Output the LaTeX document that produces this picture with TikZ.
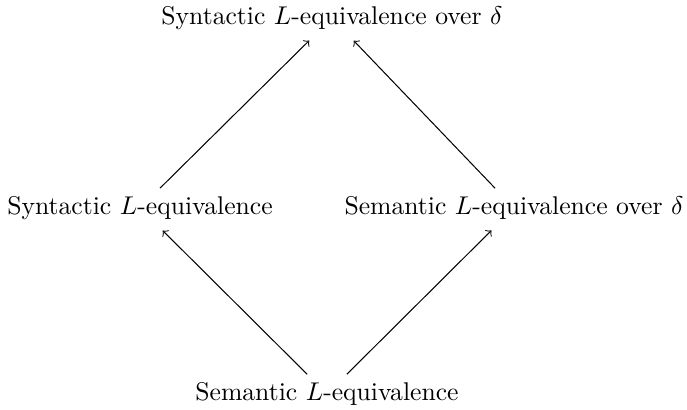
\documentclass[tikz,border=0pt]{standalone}
\usepackage{amsmath}
\usepackage{amssymb}
\usepackage{tikz}
\usetikzlibrary{positioning,calc}
\tikzset{
  >=to,
  % --- nodes
  eqv/.style = {inner sep=3pt, align=center},
  % --- edges
  e/.style   = {->, draw=black, shorten >=1.5pt},
}

\begin{document}
\begin{tikzpicture}[x=0.39pt,y=-0.39pt]
  \useasboundingbox (0,0) rectangle (687,410);
  % levels
  \node[eqv] (synover) at (332,18)  {Syntactic $L$-equivalence over $\delta$};
  \node[eqv] (syn)     at (140,208) {Syntactic $L$-equivalence};
  \node[eqv] (semover) at (514,208) {Semantic $L$-equivalence over $\delta$};
  \node[eqv] (sem)     at (327,394) {Semantic $L$-equivalence};
  % implications
  \draw[e] (sem) -- (syn);
  \draw[e] (sem) -- (semover);
  \draw[e] (syn) -- (synover);
  \draw[e] (semover) -- (synover);
\end{tikzpicture}
\end{document}
